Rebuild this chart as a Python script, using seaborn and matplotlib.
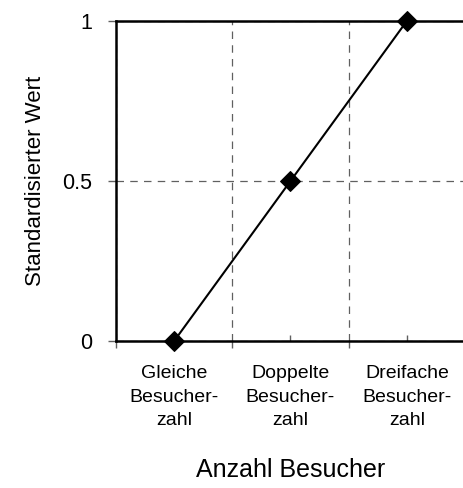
import matplotlib
matplotlib.use('Agg')
import matplotlib.pyplot as plt
import seaborn as sns
import pandas as pd

# data
categories = ['Gleiche\nBesucher-\nzahl', 'Doppelte\nBesucher-\nzahl', 'Dreifache\nBesucher-\nzahl']
values = [0, 0.5, 1]
yticks = [0, 0.5, 1]
yticklabels = ['0', '0.5', '1']

df = pd.DataFrame({'pos': range(len(categories)), 'wert': values})

sns.set_theme(style='white', rc={'text.color': 'black', 'axes.labelcolor': 'black',
                                 'xtick.labelcolor': 'black', 'ytick.labelcolor': 'black'})
plt.rcParams['font.family'] = ['Liberation Sans', 'DejaVu Sans']

fig = plt.figure(figsize=(4.64, 4.88), dpi=100)
ax = fig.add_axes([116 / 464, 147 / 488, 349 / 464, 320 / 488])

sns.lineplot(data=df, x='pos', y='wert', ax=ax, color='black', linewidth=1.5,
             marker='D', markersize=10, markeredgecolor='black', zorder=5, clip_on=False)

# category boundaries as major ticks (with grid), labels at minor ticks
n = len(categories)
ax.set_xlim(-0.5, n - 0.5)
ax.set_xticks([i - 0.5 for i in range(n + 1)], [''] * (n + 1))
ax.set_xticks(range(n), categories, minor=True)
ax.set_ylim(0, 1)
ax.set_yticks(yticks, yticklabels)

ax.grid(True, axis='both', which='major', color='#606060', linestyle=(0, (6, 5)), linewidth=0.9)
ax.set_axisbelow(True)

ax.tick_params(axis='y', which='major', direction='out', length=6, width=1, color='#606060',
               labelsize=15.5, pad=11, left=True)
ax.tick_params(axis='x', which='major', direction='out', length=5, width=1, color='#606060', bottom=True)
ax.tick_params(axis='x', which='minor', direction='in', length=4, width=1, color='#606060',
               labelsize=14, pad=17.5, bottom=True)
for lab in ax.get_xticklabels(minor=True):
    lab.set_linespacing(1.5)

for s in ['left', 'bottom', 'top']:
    ax.spines[s].set_color('black')
    ax.spines[s].set_linewidth(1.8)
ax.spines['right'].set_visible(False)

ax.set_xlabel('Anzahl Besucher', fontsize=18, labelpad=21)
ax.set_ylabel('Standardisierter Wert', fontsize=16, labelpad=12)

plt.savefig('out.png', dpi=100)
